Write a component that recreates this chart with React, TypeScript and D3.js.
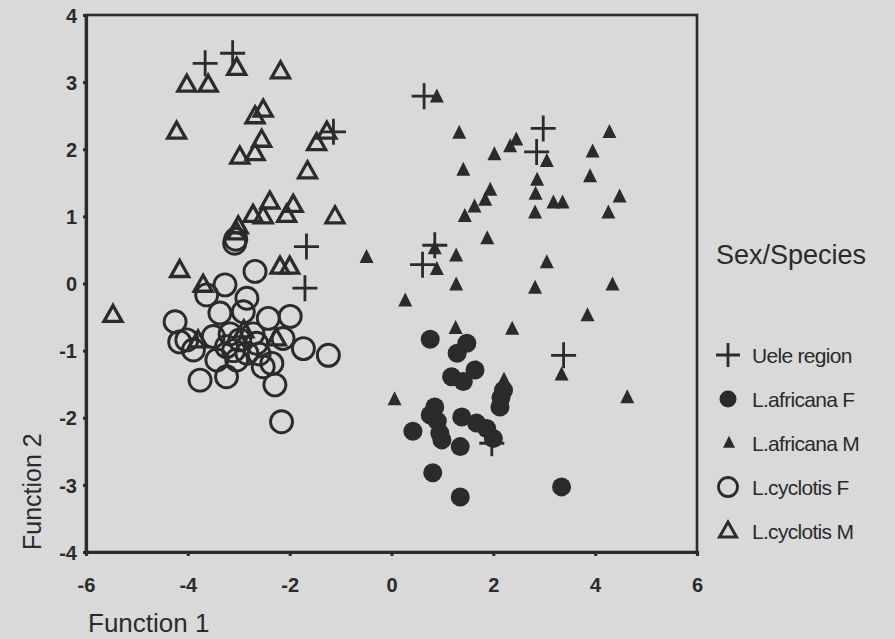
import React, { useEffect, useRef } from 'react';
import * as d3 from 'd3';

type Pt = [number, number];

// Discriminant function scores
const ueleRegion: Pt[] = [
  [-3.66, 3.28], [-3.12, 3.43], [-1.14, 2.26], [-1.67, 0.55], [-1.7, -0.07], [0.64, 2.79],
  [2.98, 2.31], [2.85, 1.96], [0.85, 0.57], [0.61, 0.28], [3.38, -1.07], [1.97, -2.38]
];

const africanaF: Pt[] = [
  [0.76, -0.83], [1.48, -0.89], [1.29, -1.04], [1.18, -1.39], [1.41, -1.46], [1.64, -1.29],
  [2.2, -1.59], [2.13, -1.84], [0.85, -1.84], [0.76, -1.96], [0.95, -2.23], [0.99, -2.33],
  [1.35, -2.43], [1.38, -1.99], [1.67, -2.08], [1.87, -2.16], [2.0, -2.31], [0.42, -2.2],
  [0.81, -2.82], [1.35, -3.18], [3.34, -3.03], [2.15, -1.7], [0.9, -2.05]
];

const africanaM: Pt[] = [
  [1.33, 2.24], [1.41, 1.69], [2.02, 1.92], [2.33, 2.04], [2.45, 2.14], [3.05, 1.82],
  [2.86, 1.54], [2.83, 1.33], [2.82, 1.05], [3.18, 1.2], [3.36, 1.2], [1.94, 1.39],
  [1.84, 1.24], [1.63, 1.14], [1.44, 1.0], [1.88, 0.67], [-0.49, 0.39], [0.85, 0.52],
  [0.89, 0.21], [1.27, 0.41], [1.27, -0.02], [0.27, -0.26], [3.05, 0.31], [2.82, -0.07],
  [0.89, 2.78], [4.28, 2.25], [3.95, 1.96], [3.9, 1.59], [4.48, 1.29], [4.26, 1.05],
  [4.34, -0.02], [3.85, -0.48], [3.34, -1.36], [4.63, -1.7], [2.37, -0.68], [1.26, -0.67],
  [0.06, -1.73], [2.21, -1.44], [1.67, -1.26]
];

const cyclotisF: Pt[] = [
  [-2.68, 0.18], [-3.27, -0.02], [-3.63, -0.17], [-2.84, -0.22], [-3.37, -0.44], [-2.91, -0.42],
  [-2.42, -0.52], [-1.99, -0.49], [-4.25, -0.57], [-4.16, -0.87], [-4.02, -0.84], [-3.5, -0.79],
  [-3.24, -0.94], [-2.98, -0.84], [-2.65, -0.89], [-2.13, -0.82], [-1.73, -0.97], [-1.24, -1.07],
  [-3.76, -1.44], [-3.24, -1.39], [-3.04, -1.14], [-3.43, -1.14], [-2.52, -1.24], [-2.29, -1.51],
  [-2.35, -1.19], [-2.16, -2.06], [-2.84, -1.04], [-3.89, -0.99], [-3.17, -0.75], [-2.72, -0.75],
  [-3.08, 0.6], [-3.06, 0.66], [-3.1, -1.0], [-2.6, -1.05]
];

const cyclotisM: Pt[] = [
  [-4.02, 2.96], [-3.6, 2.96], [-3.04, 3.21], [-2.18, 3.16], [-2.68, 2.49], [-2.52, 2.59],
  [-4.22, 2.26], [-2.98, 1.89], [-2.68, 1.94], [-2.55, 2.14], [-1.47, 2.09], [-1.27, 2.26],
  [-1.65, 1.67], [-1.11, 1.0], [-2.39, 1.22], [-2.72, 1.02], [-2.52, 1.0], [-2.06, 1.02],
  [-1.93, 1.17], [-3.01, 0.85], [-3.04, 0.76], [-4.16, 0.2], [-5.47, -0.47], [-3.7, -0.02],
  [-2.19, 0.25], [-2.0, 0.25], [-2.26, -0.82], [-3.8, -0.85], [-2.9, -0.7]
];

const xTicks = [-6, -4, -2, 0, 2, 4, 6];
const yTicks = [-4, -3, -2, -1, 0, 1, 2, 3, 4];
const legendLabels = ['Uele region', 'L.africana F', 'L.africana M', 'L.cyclotis F', 'L.cyclotis M'];

const INK = '#2b2b2b';
const FONT = '"Liberation Sans", Arial, sans-serif';

const trianglePath = (w: number, h: number) =>
  `M0,${-h * 0.6}L${w / 2},${h * 0.4}L${-w / 2},${h * 0.4}Z`;

const App: React.FC = () => {
  const svgRef = useRef<SVGSVGElement>(null);
  const width = 895;
  const height = 639;

  useEffect(() => {
    if (!svgRef.current) return;
    const svg = d3.select(svgRef.current);
    svg.selectAll('*').remove();

    svg.append('rect').attr('width', width).attr('height', height).attr('fill', '#d9d9d9');

    const x = d3.scaleLinear().domain([-6, 6]).range([86, 697]);
    const y = d3.scaleLinear().domain([-4, 4]).range([552, 15]);

    // frame
    svg.append('rect')
      .attr('x', x(-6)).attr('y', y(4))
      .attr('width', x(6) - x(-6)).attr('height', y(-4) - y(4))
      .attr('fill', 'none').attr('stroke', INK).attr('stroke-width', 2.6);

    // axes (plain hyphen minus like the original)
    const fmt = (d: d3.NumberValue) => String(d);
    const xAxis = svg.append('g')
      .attr('transform', `translate(0,${y(-4)})`)
      .call(d3.axisBottom(x).tickValues(xTicks).tickSize(4).tickPadding(22).tickFormat(fmt));
    const yAxis = svg.append('g')
      .attr('transform', `translate(${x(-6)},0)`)
      .call(d3.axisLeft(y).tickValues(yTicks).tickSize(3).tickPadding(6).tickFormat(fmt));

    [xAxis, yAxis].forEach(a => {
      a.select('.domain').attr('stroke', INK).attr('stroke-width', 3.2);
      a.selectAll('.tick line').attr('stroke', INK).attr('stroke-width', 3);
      a.selectAll('.tick text')
        .attr('fill', INK)
        .style('font-family', FONT)
        .style('font-size', '20px')
        .style('font-weight', 'bold');
    });
    yAxis.selectAll('.tick text').attr('dy', '0.36em');

    const plot = svg.append('g');

    // L.cyclotis F: open circles
    plot.selectAll('.cf')
      .data(cyclotisF)
      .enter().append('circle')
      .attr('cx', d => x(d[0])).attr('cy', d => y(d[1]))
      .attr('r', 11)
      .attr('fill', 'none').attr('stroke', INK).attr('stroke-width', 2.9);

    // L.cyclotis M: open triangles
    plot.selectAll('.cm')
      .data(cyclotisM)
      .enter().append('path')
      .attr('transform', d => `translate(${x(d[0])},${y(d[1])})`)
      .attr('d', trianglePath(18, 16))
      .attr('fill', 'none').attr('stroke', INK).attr('stroke-width', 3.3);

    // L.africana F: filled circles
    plot.selectAll('.af')
      .data(africanaF)
      .enter().append('circle')
      .attr('cx', d => x(d[0])).attr('cy', d => y(d[1]))
      .attr('r', 9.5)
      .attr('fill', INK);

    // L.africana M: filled triangles
    plot.selectAll('.am')
      .data(africanaM)
      .enter().append('path')
      .attr('transform', d => `translate(${x(d[0])},${y(d[1])})`)
      .attr('d', trianglePath(14, 14))
      .attr('fill', INK);

    // Uele region: crosses
    plot.selectAll('.ue')
      .data(ueleRegion)
      .enter().append('path')
      .attr('transform', d => `translate(${x(d[0])},${y(d[1])})`)
      .attr('d', 'M-12.5,0H12.5M0,-13V13')
      .attr('fill', 'none').attr('stroke', INK).attr('stroke-width', 2.8);

    // axis titles
    svg.append('text')
      .attr('x', 88).attr('y', 632)
      .attr('fill', INK)
      .style('font-family', FONT).style('font-size', '26px')
      .text('Function 1');
    svg.append('text')
      .attr('transform', `translate(41,550) rotate(-90)`)
      .attr('fill', INK)
      .style('font-family', FONT).style('font-size', '25px')
      .text('Function 2');

    // legend
    const lg = svg.append('g');
    lg.append('text')
      .attr('x', 716).attr('y', 264)
      .attr('fill', INK)
      .style('font-family', FONT).style('font-size', '27px')
      .text('Sex/Species');

    const rowY = [355, 399, 443, 487, 531];
    const symX = 728;
    lg.append('path')
      .attr('transform', `translate(${symX},${rowY[0]})`)
      .attr('d', 'M-12,0H12M0,-12V12')
      .attr('stroke', INK).attr('stroke-width', 2.8);
    lg.append('circle').attr('cx', symX).attr('cy', rowY[1]).attr('r', 8.5).attr('fill', INK);
    lg.append('path')
      .attr('transform', `translate(${symX + 1},${rowY[2]})`)
      .attr('d', trianglePath(12, 12)).attr('fill', INK);
    lg.append('circle').attr('cx', symX).attr('cy', rowY[3]).attr('r', 9.5)
      .attr('fill', 'none').attr('stroke', INK).attr('stroke-width', 2.8);
    lg.append('path')
      .attr('transform', `translate(${symX},${rowY[4]})`)
      .attr('d', trianglePath(17, 15))
      .attr('fill', 'none').attr('stroke', INK).attr('stroke-width', 3);

    lg.selectAll('.lbl')
      .data(legendLabels)
      .enter().append('text')
      .attr('x', 752)
      .attr('y', (d, i) => rowY[i] + 8)
      .attr('fill', INK)
      .style('font-family', FONT).style('font-size', '21px')
      .style('letter-spacing', '-0.7px')
      .text(d => d);
  }, []);

  return (
    <svg
      ref={svgRef}
      width={width}
      height={height}
      style={{ position: 'absolute', left: 0, top: 0, display: 'block' }}
    />
  );
};

export default App;
